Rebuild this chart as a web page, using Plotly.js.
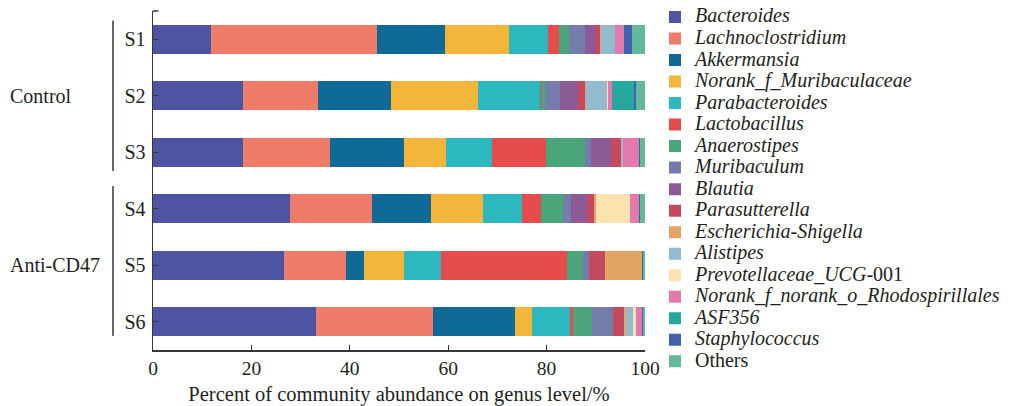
<!DOCTYPE html>
<html>
<head>
<meta charset="utf-8">
<script src="https://cdn.plot.ly/plotly-3.0.1.min.js"></script>
<style>html,body{margin:0;padding:0;background:#fff;}#chart{width:1010px;height:406px;}</style>
</head>
<body>
<div id="chart"></div>
<script>
const samples = ['S1', 'S2', 'S3', 'S4', 'S5', 'S6'];
const genera = ['Bacteroides', 'Lachnoclostridium', 'Akkermansia', 'Norank_f_Muribaculaceae',
  'Parabacteroides', 'Lactobacillus', 'Anaerostipes', 'Muribaculum', 'Blautia', 'Parasutterella',
  'Escherichia-Shigella', 'Alistipes', 'Prevotellaceae_UCG-001', 'Norank_f_norank_o_Rhodospirillales',
  'ASF356', 'Staphylococcus', 'Others'];
const legendLabels = ['<i>Bacteroides</i>', '<i>Lachnoclostridium</i>', '<i>Akkermansia</i>',
  '<i>Norank_f_Muribaculaceae</i>', '<i>Parabacteroides</i>', '<i>Lactobacillus</i>',
  '<i>Anaerostipes</i>', '<i>Muribaculum</i>', '<i>Blautia</i>', '<i>Parasutterella</i>',
  '<i>Escherichia-Shigella</i>', '<i>Alistipes</i>', '<i>Prevotellaceae_UCG</i>-001',
  '<i>Norank_f_norank_o_Rhodospirillales</i>', '<i>ASF356</i>', '<i>Staphylococcus</i>', 'Others'];

const bacteroides     = [11.8, 18.3, 18.3, 27.8, 26.6, 33.1];
const lachnoclostridium = [33.7, 15.2, 17.7, 16.7, 12.6, 23.8];
const akkermansia     = [13.8, 14.9, 15.0, 12.0, 3.7, 16.7];
const norankMuribac   = [13.1, 17.7, 8.6, 10.6, 8.1, 3.4];
const parabacteroides = [7.8, 12.6, 9.3, 7.9, 7.5, 7.7];
const lactobacillus   = [2.3, 0.2, 11.0, 3.9, 25.6, 0.7];
const anaerostipes    = [2.1, 0.8, 7.9, 4.4, 3.3, 3.8];
const muribaculum     = [3.2, 3.0, 1.2, 1.7, 1.2, 4.3];
const blautia         = [2.0, 3.7, 4.1, 3.2, 0, 0];
const parasutterella  = [1.0, 1.4, 2.0, 1.4, 3.3, 2.2];
const escherichia     = [0.2, 0.2, 0, 0.4, 7.5, 0.4];
const alistipes       = [2.9, 4.3, 0.5, 0, 0, 1.5];
const prevotellaceae  = [0, 0.2, 0, 7.0, 0, 0.6];
const rhodospirillales = [1.8, 0.8, 3.2, 1.8, 0, 1.2];
const asf356          = [0, 4.5, 0, 0, 0, 0];
const staphylococcus  = [1.6, 0.4, 0.2, 0.2, 0.2, 0.2];
const others          = [2.7, 1.8, 1.0, 1.0, 0.4, 0.4];

const seriesValues = [bacteroides, lachnoclostridium, akkermansia, norankMuribac, parabacteroides,
  lactobacillus, anaerostipes, muribaculum, blautia, parasutterella, escherichia, alistipes,
  prevotellaceae, rhodospirillales, asf356, staphylococcus, others];

const colors = ['#4e54a3', '#ef7b69', '#0f6a95', '#f4b53b', '#2db8c0', '#e64c4c', '#4aa67a',
  '#737cab', '#8c5b97', '#c64a5f', '#e3a566', '#92bbd0', '#fbe3b0', '#e47aab', '#25a79f',
  '#3f63ad', '#64b99b'];

const groups = ['Control', 'Anti-CD47'];

const FONT = 'Liberation Serif, Times New Roman, serif';
const TXT = '#231f20';
const AX = '#3a3536';

const traces = genera.map((g, i) => ({
  type: 'bar',
  orientation: 'h',
  name: '<span style="font-size:20px">' + legendLabels[i] + '</span>',
  y: samples,
  x: seriesValues[i],
  marker: {color: colors[i], line: {width: 0}},
  hoverinfo: 'x+name'
}));

const layout = {
  width: 1010,
  height: 406,
  margin: {l: 153, r: 365, t: 11, b: 56, autoexpand: false},
  paper_bgcolor: '#ffffff',
  plot_bgcolor: '#ffffff',
  barmode: 'stack',
  bargap: 0.487,
  font: {family: FONT, color: TXT, size: 19},
  showlegend: true,
  legend: {
    x: 1.0203, xanchor: 'left',
    y: 1.029, yanchor: 'top',
    traceorder: 'normal',
    maxheight: 400,
    font: {family: FONT, size: 14.25, color: TXT},
    bgcolor: 'rgba(0,0,0,0)',
    borderwidth: 0
  },
  xaxis: {
    range: [0, 100],
    tickvals: [0, 20, 40, 60, 80, 100],
    ticks: 'inside',
    ticklen: 5,
    tickwidth: 1.2,
    tickcolor: AX,
    showline: true,
    linecolor: AX,
    linewidth: 1.5,
    showgrid: false,
    zeroline: false,
    tickfont: {family: FONT, size: 19.5, color: TXT},
    title: {text: 'Percent of community abundance on genus level/%', font: {family: FONT, size: 20.5, color: TXT}, standoff: 8},
    fixedrange: true
  },
  yaxis: {
    type: 'category',
    categoryorder: 'array',
    categoryarray: samples,
    range: [5.5, -0.5],
    ticks: 'inside',
    ticklen: 5,
    tickwidth: 1.2,
    tickcolor: AX,
    showline: true,
    linecolor: AX,
    linewidth: 1.5,
    showgrid: false,
    zeroline: false,
    tickfont: {family: FONT, size: 20, color: TXT},
    ticklabelstandoff: 2,
    fixedrange: true
  },
  shapes: [
    {type: 'line', xref: 'x', yref: 'paper', x0: 0, x1: 1.1, y0: 1, y1: 1, line: {color: AX, width: 1.5}},
    {type: 'line', xref: 'paper', yref: 'y', x0: -0.0813, x1: -0.0813, y0: -0.33, y1: 2.33, line: {color: '#6b6566', width: 2}},
    {type: 'line', xref: 'paper', yref: 'y', x0: -0.0813, x1: -0.0813, y0: 2.6, y1: 5.25, line: {color: '#6b6566', width: 2}}
  ],
  annotations: [
    {text: groups[0], xref: 'paper', yref: 'y', x: -0.295, y: 1, xanchor: 'left', yanchor: 'middle', showarrow: false, font: {family: FONT, size: 20, color: TXT}},
    {text: groups[1], xref: 'paper', yref: 'y', x: -0.295, y: 4, xanchor: 'left', yanchor: 'middle', showarrow: false, font: {family: FONT, size: 20, color: TXT}}
  ]
};

Plotly.newPlot('chart', traces, layout, {displayModeBar: false, staticPlot: true});
</script>
</body>
</html>
